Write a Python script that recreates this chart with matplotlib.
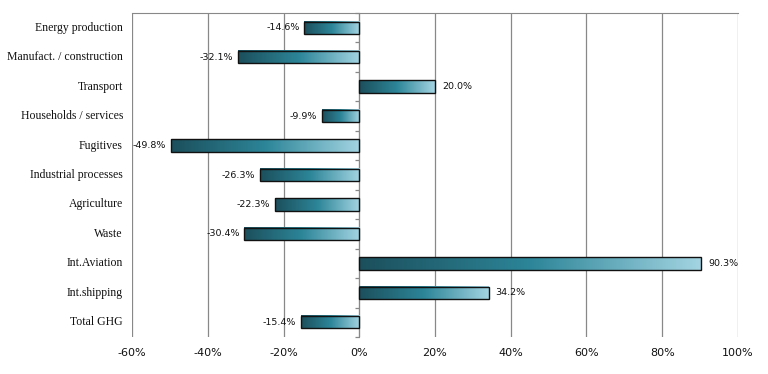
import numpy as np
import matplotlib.pyplot as plt
from matplotlib.colors import LinearSegmentedColormap
from matplotlib.ticker import FuncFormatter, FixedLocator
from matplotlib.transforms import blended_transform_factory

# === Data ===
categories = ["Energy production", "Manufact. / construction", "Transport",
              "Households / services", "Fugitives", "Industrial processes",
              "Agriculture", "Waste", "Int.Aviation", "Int.shipping", "Total GHG"]
values = [-14.6, -32.1, 20.0, -9.9, -49.8, -26.3, -22.3, -30.4, 90.3, 34.2, -15.4]
xticks = [-60, -40, -20, 0, 20, 40, 60, 80, 100]

# === Figure ===
fig = plt.figure(figsize=(7.68, 3.74), dpi=100)
ax = fig.add_axes([0.1719, 0.0989, 0.7890, 0.8663])

grad = LinearSegmentedColormap.from_list("teal", ["#1c4f5c", "#2c8598", "#a3d4e2"])
gradient = np.linspace(0, 1, 256).reshape(1, -1)

y = np.arange(len(categories))
bh = 0.42
bars = ax.barh(y, values, height=bh, facecolor="none", edgecolor="#111111",
               linewidth=1.0, zorder=4)
for b in bars:
    x0, x1 = sorted([b.get_x(), b.get_x() + b.get_width()])
    y0, y1 = b.get_y(), b.get_y() + b.get_height()
    ax.imshow(gradient, cmap=grad, aspect="auto", extent=(x0, x1, y1, y0),
              zorder=3, interpolation="bicubic")

# value labels
for yi, v in zip(y, values):
    if v < 0:
        ax.text(v - 1.2, yi, f"{v:.1f}%", ha="right", va="center",
                fontsize=6.8, color="#111111", family="DejaVu Sans")
    else:
        ax.text(v + 1.8, yi, f"{v:.1f}%", ha="left", va="center",
                fontsize=6.8, color="#111111", family="DejaVu Sans")

# category labels on the left of the plot area
trans = blended_transform_factory(ax.transAxes, ax.transData)
for yi, c in zip(y, categories):
    ax.text(-0.015, yi, c, transform=trans, ha="right", va="center",
            fontsize=8.5, family="Liberation Serif", color="#111111")

ax.set_xlim(-60, 100)
ax.set_ylim(len(categories) - 0.5, -0.5)
ax.set_xticks(xticks)
ax.xaxis.set_major_formatter(FuncFormatter(lambda v, p: f"{v:.0f}%"))
ax.tick_params(axis="x", length=0, labelsize=8, colors="#111111", pad=8)
ax.grid(axis="x", color="#888888", linewidth=0.9, zorder=0)
ax.set_axisbelow(True)

ax.set_yticks([])
ax.yaxis.set_minor_locator(FixedLocator(np.arange(-0.5, len(categories), 1.0)))
ax.tick_params(axis="y", which="minor", direction="out", length=3,
               color="#888888", width=0.9)
ax.spines["left"].set_position(("data", 0))
ax.spines["left"].set_color("#888888")
ax.spines["left"].set_zorder(2)
for s in ["right", "bottom"]:
    ax.spines[s].set_visible(False)
ax.spines["top"].set_color("#888888")

fig.savefig("out.png", dpi=100)
